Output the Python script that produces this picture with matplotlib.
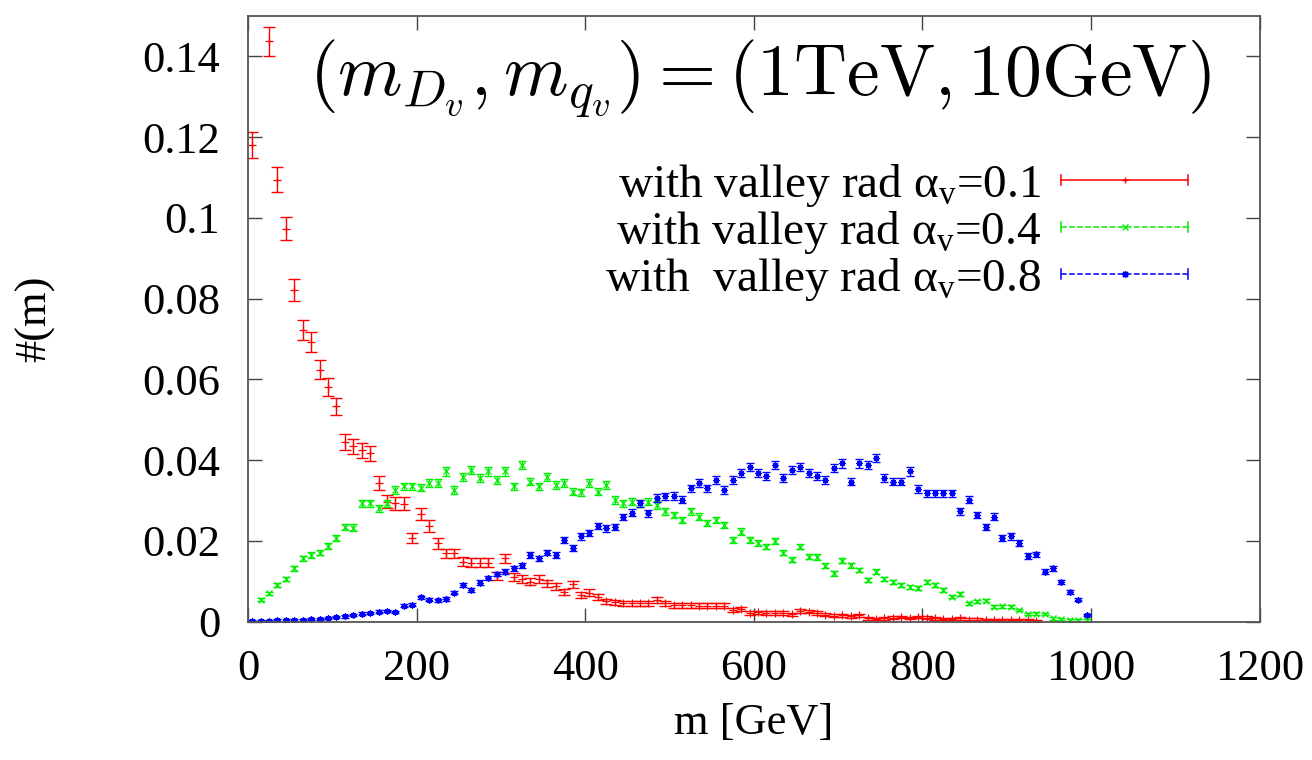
import numpy as np
import matplotlib
matplotlib.use("Agg")
import matplotlib.pyplot as plt
from matplotlib.lines import Line2D
from matplotlib.legend_handler import HandlerBase
from matplotlib.ticker import MultipleLocator

# bin centres (10 GeV bins); red has no point at 15 GeV
m_bins = np.arange(5, 1000, 10)
m_red = np.concatenate([[5], np.arange(25, 945, 10)])
m_green = np.arange(15, 1000, 10)
m_blue = m_bins

y_red = [0.1181,
         0.1437, 0.1094, 0.0973, 0.0822, 0.0723, 0.0692, 0.0624, 0.0581, 0.0533, 0.0445,
         0.0434, 0.0424, 0.0417, 0.0343, 0.0297, 0.0293, 0.0292, 0.0207, 0.0267, 0.0237,
         0.0194, 0.0169, 0.0169, 0.0149, 0.0146, 0.0146, 0.0146, 0.0113, 0.0157, 0.0110,
         0.0105, 0.0099, 0.0105, 0.0095, 0.0088, 0.0074, 0.0093, 0.0066, 0.0072, 0.0062,
         0.0050, 0.0048, 0.0046, 0.0046, 0.0046, 0.0046, 0.0054, 0.0046, 0.0041, 0.0041,
         0.0041, 0.0040, 0.0040, 0.0040, 0.0040, 0.0029, 0.0031, 0.0021,
         0.0023, 0.0022, 0.0022, 0.0021, 0.0018, 0.0027, 0.0025, 0.0021, 0.0017, 0.0015,
         0.0016, 0.0013, 0.0016, 0.0008, 0.0006, 0.0008, 0.0010, 0.0012, 0.0009, 0.0012,
         0.0010, 0.0008, 0.0007, 0.0006, 0.0008, 0.0005, 0.0005, 0.0004, 0.0004, 0.0003,
         0.0004, 0.0003, 0.0003, 0.0002]

y_green = [0.0054, 0.0070, 0.0091, 0.0105, 0.0132, 0.0157, 0.0165, 0.0171, 0.0188,
           0.0207, 0.0235, 0.0233, 0.0293, 0.0293, 0.0281, 0.0293, 0.0326, 0.0335, 0.0335,
           0.0332, 0.0343, 0.0343, 0.0372, 0.0326, 0.0359, 0.0376, 0.0355, 0.0372, 0.0351,
           0.0372, 0.0335, 0.0388, 0.0347, 0.0335, 0.0359, 0.0339, 0.0343, 0.0322, 0.0320,
           0.0343, 0.0322, 0.0339, 0.0301, 0.0293, 0.0297, 0.0293, 0.0297, 0.0289, 0.0273,
           0.0264, 0.0252, 0.0273, 0.0260, 0.0244, 0.0252, 0.0240, 0.0202, 0.0223, 0.0202,
           0.0194, 0.0186, 0.0200, 0.0171, 0.0153, 0.0186, 0.0161, 0.0160, 0.0138, 0.0120,
           0.0151, 0.0140, 0.0128, 0.0103, 0.0124, 0.0105, 0.0099, 0.0091, 0.0087, 0.0083,
           0.0099, 0.0091, 0.0079, 0.0062, 0.0068, 0.0046, 0.0050, 0.0052, 0.0037, 0.0038,
           0.0037, 0.0029, 0.0019, 0.0020, 0.0019, 0.0008, 0.0007, 0.0004, 0.0004, 0.0003]

y_blue = [0.0002, 0.0002, 0.0002, 0.0003, 0.0003, 0.0004, 0.0004, 0.0006, 0.0007, 0.0009,
          0.0011, 0.0013, 0.0016, 0.0020, 0.0021, 0.0025, 0.0027, 0.0024, 0.0040, 0.0042,
          0.0060, 0.0054, 0.0053, 0.0056, 0.0072, 0.0090, 0.0079, 0.0097, 0.0108, 0.0118,
          0.0124, 0.0132, 0.0140, 0.0165, 0.0157, 0.0171, 0.0165, 0.0202, 0.0182, 0.0211,
          0.0219, 0.0237, 0.0231, 0.0235, 0.0259, 0.0270, 0.0293, 0.0268, 0.0306, 0.0310,
          0.0311, 0.0302, 0.0330, 0.0343, 0.0330, 0.0351, 0.0326, 0.0350, 0.0368, 0.0384,
          0.0368, 0.0361, 0.0388, 0.0355, 0.0376, 0.0384, 0.0368, 0.0361, 0.0351, 0.0380,
          0.0392, 0.0347, 0.0392, 0.0388, 0.0405, 0.0355, 0.0347, 0.0347, 0.0372, 0.0328,
          0.0318, 0.0318, 0.0318, 0.0318, 0.0273, 0.0302, 0.0264, 0.0234, 0.0260, 0.0207,
          0.0211, 0.0194, 0.0163, 0.0167, 0.0124, 0.0132, 0.0099, 0.0074, 0.0054, 0.0017]

# statistical error scale per sample (err ~ k*sqrt(y))
err_scale = {"red": 0.0093, "green": 0.0052, "blue": 0.0052}

labels = [r"with valley rad α$_\mathregular{v}$=0.1",
          r"with valley rad α$_\mathregular{v}$=0.4",
          r"with  valley rad α$_\mathregular{v}$=0.8"]

yticks = [0, 0.02, 0.04, 0.06, 0.08, 0.1, 0.12, 0.14]

serif = "Liberation Serif"

fig = plt.figure(figsize=(13.12, 7.6), dpi=100)
ax = fig.add_axes([0.189, 0.182, 0.771, 0.797])

series = [(m_red, y_red, "#ff0000", "+", 6, 4.5, "red", "-"),
          (m_green, y_green, "#00ee00", "x", 4.5, 3.2, "green", (0, (4, 2))),
          (m_blue, y_blue, "#0000ff", (8, 2, 0), 4.5, 3.2, "blue", (0, (2.5, 2)))]

handles = []
for m, y, col, mk, ms, cs, key, ls in series:
    y = np.array(y)
    err = np.maximum(err_scale[key] * np.sqrt(y), 0.0003)
    ax.errorbar(m, y, yerr=err, fmt="none", ecolor=col, elinewidth=1.0,
                capsize=cs, capthick=1.0)
    ax.plot(m, y, ls="none", marker=mk, color=col, ms=ms, mew=0.9)
    handles.append(Line2D([], [], color=col, ls=ls, marker=mk))


class ErrKey(HandlerBase):
    def create_artists(self, legend, orig_handle, xdescent, ydescent,
                       width, height, fontsize, trans):
        y = height / 2 - ydescent
        x0, x1 = -xdescent, width - xdescent
        c = orig_handle.get_color()
        h = height * 0.15
        line = Line2D([x0, x1], [y, y], color=c, ls=orig_handle.get_linestyle(), lw=1.1)
        ends = Line2D([x0, x0, np.nan, x1, x1], [y - h, y + h, np.nan, y - h, y + h],
                      color=c, lw=1.1)
        mk = Line2D([(x0 + x1) / 2], [y], ls="none", marker=orig_handle.get_marker(),
                    color=c, ms=5, mew=1.0)
        for a in (line, ends, mk):
            a.set_transform(trans)
        return [line, ends, mk]


ax.legend(handles, labels, handler_map={Line2D: ErrKey()}, loc="upper right",
          bbox_to_anchor=(0.953, 0.798), frameon=False, markerfirst=False,
          borderpad=0, handlelength=2.7, handletextpad=0.42, labelspacing=0.0,
          prop={"family": serif, "size": 34})

ax.text(0.506, 0.896, r"$(m_{D_v}, m_{q_v}) = (1\mathrm{TeV}, 10\mathrm{GeV})$",
        transform=ax.transAxes, ha="center", va="center", fontsize=53,
        math_fontfamily="cm")

ax.set_xlim(0, 1200)
ax.set_ylim(0, 0.15)
ax.xaxis.set_major_locator(MultipleLocator(200))
ax.set_yticks(yticks)
ax.set_yticklabels(["%g" % v for v in yticks])
ax.tick_params(direction="in", length=10, width=1.0, top=True, right=True,
               labelsize=32, color="#444444")
ax.tick_params(axis="y", pad=20)
ax.tick_params(axis="x", pad=20)
for t in ax.get_xticklabels() + ax.get_yticklabels():
    t.set_family(serif)
for s in ax.spines.values():
    s.set_color("#555555")
    s.set_linewidth(1.3)

ax.set_xlabel("m [GeV]", family=serif, fontsize=32)
ax.set_ylabel("#(m)", family=serif, fontsize=32)
ax.xaxis.set_label_coords(0.5, -0.135)
ax.yaxis.set_label_coords(-0.191, 0.5)

fig.savefig("out.png", dpi=100)
